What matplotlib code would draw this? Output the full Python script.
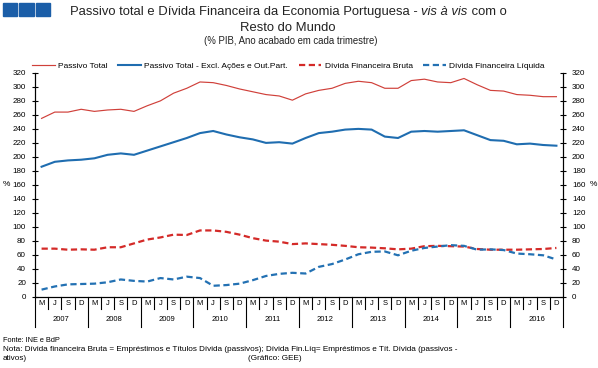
import matplotlib
matplotlib.use("Agg")
import matplotlib.pyplot as plt
import matplotlib.transforms as mtransforms
from matplotlib.patches import Rectangle

plt.rcParams["font.family"] = ["Liberation Sans", "DejaVu Sans"]

anos = ["2007", "2008", "2009", "2010", "2011", "2012", "2013", "2014", "2015", "2016"]
trimestres = ["M", "J", "S", "D"]

passivo_total = [255, 264, 264, 268, 265, 267, 268, 265, 273, 280, 291, 298,
                 307, 306, 302, 297, 293, 289, 287, 281, 290, 295, 298, 305,
                 308, 306, 298, 298, 309, 311, 307, 306, 312, 303, 295, 294,
                 289, 288, 286, 286]
passivo_excl = [186, 193, 195, 196, 198, 203, 205, 203, 209, 215, 221, 227,
                234, 237, 232, 228, 225, 220, 221, 219, 227, 234, 236, 239,
                240, 239, 229, 227, 236, 237, 236, 237, 238, 231, 224, 223,
                218, 219, 217, 216]
divida_bruta = [69, 69, 67.5, 68, 67.5, 71, 71, 76.5, 82, 85, 89, 88.5,
                95, 95, 93, 89, 84, 80.5, 79, 75.5, 76.5, 75.5, 74.5, 73,
                71, 70.5, 69.5, 68, 69, 72.5, 73, 72.5, 72, 68.5, 67.5, 67.5,
                67.5, 68, 68.5, 70]
divida_liquida = [10.5, 15, 18, 18.5, 19, 21, 25, 23, 22, 27, 25, 29,
                  27, 16, 17, 19, 24, 30, 33, 34.5, 33.5, 43, 47, 53.5,
                  61, 64.5, 65, 59.5, 66, 70, 72, 74, 73, 67.5, 68, 67,
                  62, 61, 59.5, 53.5]

x = list(range(len(passivo_total)))

fig = plt.figure(figsize=(5.98, 3.68), dpi=100)
ax = fig.add_axes([0.0585, 0.193, 0.883, 0.609])

tracejado = (0, (2.8, 1.6))
ax.plot(x, passivo_total, color="#d0403a", lw=0.85, label="Passivo Total")
ax.plot(x, passivo_excl, color="#1f6db0", lw=1.5,
        label="Passivo Total - Excl. Ações e Out.Part.")
ax.plot(x, divida_bruta, color="#d42a28", lw=1.6, ls=tracejado,
        label="Dívida Financeira Bruta")
ax.plot(x, divida_liquida, color="#2371b3", lw=1.6, ls=tracejado,
        label="Dívida Financeira Líquida")

ax.set_xlim(-0.5, len(x) - 0.5)
ax.set_ylim(0, 320)
ax.set_yticks(range(0, 321, 20))
ax.tick_params(axis="y", direction="inout", length=5, width=0.8,
               labelsize=5.8, pad=4)
ax.set_xticks([])
ax.spines["top"].set_visible(False)
for s in ["left", "right", "bottom"]:
    ax.spines[s].set_linewidth(0.8)

ax2 = ax.twinx()
ax2.set_ylim(0, 320)
ax2.set_yticks(range(0, 321, 20))
ax2.tick_params(axis="y", direction="inout", length=5, width=0.8,
                labelsize=5.8, pad=4)
ax2.spines["top"].set_visible(False)

# eixo de categorias: trimestres e anos
trans = mtransforms.blended_transform_factory(ax.transData, ax.transAxes)
for i in range(len(x) + 1):
    fim = -0.135 if i % 4 == 0 else -0.054
    ax.plot([i - 0.5, i - 0.5], [0, fim], color="black", lw=0.8,
            transform=trans, clip_on=False)
for i in x:
    ax.text(i, -0.029, trimestres[i % 4], transform=trans, fontsize=5.5,
            ha="center", va="center")
for k, ano in enumerate(anos):
    ax.text(4 * k + 1.5, -0.1, ano, transform=trans, fontsize=5.5,
            ha="center", va="center")

ax.legend(loc="lower center", bbox_to_anchor=(0.48, 1.0), ncol=4,
          frameon=False, fontsize=6, handlelength=2.7, columnspacing=1.3,
          handletextpad=0.4, borderaxespad=0)

fig.text(0.004, 0.5, "%", fontsize=6, ha="left", va="center")
fig.text(0.999, 0.5, "%", fontsize=6, ha="right", va="center")

# titulo
for k in range(3):
    fig.add_artist(Rectangle((0.005 + k * 0.0275, 0.957), 0.024, 0.035,
                             transform=fig.transFigure, color="#1b5ea8"))

partes = [("Passivo total e Dívida Financeira da Economia Portuguesa - ", "normal"),
          ("vis à vis", "italic"), (" com o", "normal")]
fig.canvas.draw()
renderer = fig.canvas.get_renderer()
textos = []
for txt, estilo in partes:
    t = fig.text(0, 0.967, txt, fontsize=9.4, style=estilo, va="center",
                 color="#222222")
    textos.append(t)
larguras = [t.get_window_extent(renderer).width / fig.bbox.width for t in textos]
x0 = 0.482 - sum(larguras) / 2
for t, w in zip(textos, larguras):
    t.set_x(x0)
    x0 += w
fig.text(0.482, 0.923, "Resto do Mundo", fontsize=9.4, ha="center",
         va="center", color="#222222")
fig.text(0.487, 0.888, "(% PIB, Ano acabado em cada trimestre)", fontsize=6.9,
         ha="center", va="center", color="#222222")

# notas
fig.text(0.005, 0.076, "Fonte: INE e BdP", fontsize=5.3, va="center")
fig.text(0.005, 0.051, "Nota: Dívida financeira Bruta = Empréstimos e Títulos "
         "Dívida (passivos); Dívida Fin.Líq= Empréstimos e Tít. Dívida (passivos -",
         fontsize=5.9, va="center")
fig.text(0.005, 0.027, "ativos)", fontsize=5.9, va="center")
fig.text(0.46, 0.027, "(Gráfico: GEE)", fontsize=5.9, ha="center", va="center")

fig.savefig("out.png", dpi=100)
